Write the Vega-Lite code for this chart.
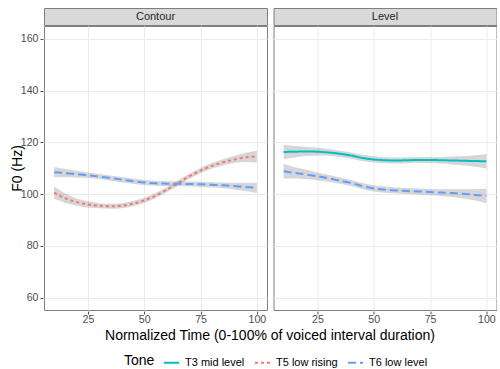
{
  "$schema": "https://vega.github.io/schema/vega-lite/v6.json",
  "padding": {"left": 10, "top": 7, "right": 0, "bottom": 0},
  "background": "white",
  "spacing": -1,
  "config": {
    "font": "Liberation Sans",
    "view": {"stroke": "#7f7f7f", "strokeWidth": 1},
    "axis": {"gridColor": "#EBEBEB", "gridWidth": 1, "domain": false, "tickColor": "#4D4D4D", "tickSize": 3, "labelColor": "#4D4D4D", "labelFontSize": 10.6, "labelPadding": 2, "titleFontWeight": "normal", "titleFontSize": 14, "titleColor": "black"},
    "legend": {"orient": "none", "legendX": 80, "legendY": 346, "direction": "horizontal", "titleOrient": "left", "titleFontSize": 14, "titleFontWeight": "normal", "titleColor": "black", "titlePadding": 8, "labelFontSize": 11, "labelColor": "black", "labelOffset": 5, "symbolType": "stroke", "symbolStrokeWidth": 2, "symbolSize": 225, "columnPadding": 6},
    "facet": {"spacing": 4.5}
  },
  "vconcat": [
    {
      "data": {"values": [{"panel": "Contour"}, {"panel": "Level"}]},
      "facet": {"column": {"field": "panel", "type": "nominal", "header": null}},
      "spec": {
        "width": 223, "height": 17,
        "view": {"fill": "#D9D9D9", "stroke": "#7f7f7f"},
        "mark": {"type": "text", "fontSize": 11, "color": "#262626", "fontWeight": "normal"},
        "encoding": {"text": {"field": "panel", "type": "nominal"}}
      }
    },
    {
      "data": {"values": [
        {"p":"Contour","tone":"T5 low rising","t":10,"y":100.6,"lo":98.3,"hi":102.9},
        {"p":"Contour","tone":"T5 low rising","t":15,"y":98.4,"lo":96.6,"hi":100.2},
        {"p":"Contour","tone":"T5 low rising","t":20,"y":96.9,"lo":95.5,"hi":98.3},
        {"p":"Contour","tone":"T5 low rising","t":25,"y":96.0,"lo":94.8,"hi":97.2},
        {"p":"Contour","tone":"T5 low rising","t":30,"y":95.5,"lo":94.5,"hi":96.5},
        {"p":"Contour","tone":"T5 low rising","t":35,"y":95.3,"lo":94.3,"hi":96.3},
        {"p":"Contour","tone":"T5 low rising","t":40,"y":95.5,"lo":94.5,"hi":96.5},
        {"p":"Contour","tone":"T5 low rising","t":45,"y":96.3,"lo":95.3,"hi":97.3},
        {"p":"Contour","tone":"T5 low rising","t":50,"y":97.6,"lo":96.6,"hi":98.6},
        {"p":"Contour","tone":"T5 low rising","t":55,"y":99.4,"lo":98.4,"hi":100.4},
        {"p":"Contour","tone":"T5 low rising","t":60,"y":101.7,"lo":100.7,"hi":102.7},
        {"p":"Contour","tone":"T5 low rising","t":65,"y":104.3,"lo":103.3,"hi":105.3},
        {"p":"Contour","tone":"T5 low rising","t":70,"y":106.9,"lo":105.9,"hi":107.9},
        {"p":"Contour","tone":"T5 low rising","t":75,"y":109.1,"lo":108.1,"hi":110.1},
        {"p":"Contour","tone":"T5 low rising","t":80,"y":110.9,"lo":109.8,"hi":112.0},
        {"p":"Contour","tone":"T5 low rising","t":85,"y":112.3,"lo":111.1,"hi":113.5},
        {"p":"Contour","tone":"T5 low rising","t":90,"y":113.4,"lo":112.0,"hi":114.8},
        {"p":"Contour","tone":"T5 low rising","t":95,"y":114.2,"lo":112.4,"hi":116.0},
        {"p":"Contour","tone":"T5 low rising","t":100,"y":114.5,"lo":112.2,"hi":116.8},
        {"p":"Contour","tone":"T6 low level","t":10,"y":108.5,"lo":106.5,"hi":110.5},
        {"p":"Contour","tone":"T6 low level","t":15,"y":108.1,"lo":106.5,"hi":109.7},
        {"p":"Contour","tone":"T6 low level","t":20,"y":107.7,"lo":106.4,"hi":109.0},
        {"p":"Contour","tone":"T6 low level","t":25,"y":107.3,"lo":106.2,"hi":108.4},
        {"p":"Contour","tone":"T6 low level","t":30,"y":106.8,"lo":105.8,"hi":107.8},
        {"p":"Contour","tone":"T6 low level","t":35,"y":106.2,"lo":105.2,"hi":107.2},
        {"p":"Contour","tone":"T6 low level","t":40,"y":105.6,"lo":104.6,"hi":106.6},
        {"p":"Contour","tone":"T6 low level","t":45,"y":105.0,"lo":104.0,"hi":106.0},
        {"p":"Contour","tone":"T6 low level","t":50,"y":104.5,"lo":103.5,"hi":105.5},
        {"p":"Contour","tone":"T6 low level","t":55,"y":104.2,"lo":103.2,"hi":105.2},
        {"p":"Contour","tone":"T6 low level","t":60,"y":104.0,"lo":103.0,"hi":105.0},
        {"p":"Contour","tone":"T6 low level","t":65,"y":104.0,"lo":103.0,"hi":105.0},
        {"p":"Contour","tone":"T6 low level","t":70,"y":103.9,"lo":102.9,"hi":104.9},
        {"p":"Contour","tone":"T6 low level","t":75,"y":103.8,"lo":102.8,"hi":104.8},
        {"p":"Contour","tone":"T6 low level","t":80,"y":103.6,"lo":102.6,"hi":104.6},
        {"p":"Contour","tone":"T6 low level","t":85,"y":103.4,"lo":102.3,"hi":104.5},
        {"p":"Contour","tone":"T6 low level","t":90,"y":103.1,"lo":101.8,"hi":104.4},
        {"p":"Contour","tone":"T6 low level","t":95,"y":102.8,"lo":101.2,"hi":104.4},
        {"p":"Contour","tone":"T6 low level","t":100,"y":102.4,"lo":100.4,"hi":104.4},
        {"p":"Level","tone":"T3 mid level","t":10,"y":116.3,"lo":113.5,"hi":119.1},
        {"p":"Level","tone":"T3 mid level","t":15,"y":116.4,"lo":114.2,"hi":118.6},
        {"p":"Level","tone":"T3 mid level","t":20,"y":116.5,"lo":114.7,"hi":118.3},
        {"p":"Level","tone":"T3 mid level","t":25,"y":116.4,"lo":114.9,"hi":117.9},
        {"p":"Level","tone":"T3 mid level","t":30,"y":116.1,"lo":114.8,"hi":117.4},
        {"p":"Level","tone":"T3 mid level","t":35,"y":115.6,"lo":114.4,"hi":116.8},
        {"p":"Level","tone":"T3 mid level","t":40,"y":114.9,"lo":113.7,"hi":116.1},
        {"p":"Level","tone":"T3 mid level","t":45,"y":114.0,"lo":112.8,"hi":115.2},
        {"p":"Level","tone":"T3 mid level","t":50,"y":113.4,"lo":112.2,"hi":114.6},
        {"p":"Level","tone":"T3 mid level","t":55,"y":113.1,"lo":111.9,"hi":114.3},
        {"p":"Level","tone":"T3 mid level","t":60,"y":113.0,"lo":111.8,"hi":114.2},
        {"p":"Level","tone":"T3 mid level","t":65,"y":113.1,"lo":111.9,"hi":114.3},
        {"p":"Level","tone":"T3 mid level","t":70,"y":113.2,"lo":112.0,"hi":114.4},
        {"p":"Level","tone":"T3 mid level","t":75,"y":113.2,"lo":112.0,"hi":114.4},
        {"p":"Level","tone":"T3 mid level","t":80,"y":113.1,"lo":111.8,"hi":114.4},
        {"p":"Level","tone":"T3 mid level","t":85,"y":113.0,"lo":111.5,"hi":114.5},
        {"p":"Level","tone":"T3 mid level","t":90,"y":112.9,"lo":111.1,"hi":114.7},
        {"p":"Level","tone":"T3 mid level","t":95,"y":112.8,"lo":110.6,"hi":115.0},
        {"p":"Level","tone":"T3 mid level","t":100,"y":112.7,"lo":109.9,"hi":115.5},
        {"p":"Level","tone":"T6 low level","t":10,"y":108.8,"lo":106.0,"hi":111.6},
        {"p":"Level","tone":"T6 low level","t":15,"y":108.2,"lo":106.0,"hi":110.4},
        {"p":"Level","tone":"T6 low level","t":20,"y":107.6,"lo":105.8,"hi":109.4},
        {"p":"Level","tone":"T6 low level","t":25,"y":106.9,"lo":105.4,"hi":108.4},
        {"p":"Level","tone":"T6 low level","t":30,"y":106.1,"lo":104.8,"hi":107.4},
        {"p":"Level","tone":"T6 low level","t":35,"y":105.2,"lo":104.0,"hi":106.4},
        {"p":"Level","tone":"T6 low level","t":40,"y":104.3,"lo":103.1,"hi":105.5},
        {"p":"Level","tone":"T6 low level","t":45,"y":103.1,"lo":101.9,"hi":104.3},
        {"p":"Level","tone":"T6 low level","t":50,"y":102.2,"lo":101.0,"hi":103.4},
        {"p":"Level","tone":"T6 low level","t":55,"y":101.7,"lo":100.5,"hi":102.9},
        {"p":"Level","tone":"T6 low level","t":60,"y":101.4,"lo":100.2,"hi":102.6},
        {"p":"Level","tone":"T6 low level","t":65,"y":101.2,"lo":100.0,"hi":102.4},
        {"p":"Level","tone":"T6 low level","t":70,"y":101.0,"lo":99.8,"hi":102.2},
        {"p":"Level","tone":"T6 low level","t":75,"y":100.8,"lo":99.6,"hi":102.0},
        {"p":"Level","tone":"T6 low level","t":80,"y":100.6,"lo":99.3,"hi":101.9},
        {"p":"Level","tone":"T6 low level","t":85,"y":100.4,"lo":98.9,"hi":101.9},
        {"p":"Level","tone":"T6 low level","t":90,"y":100.1,"lo":98.3,"hi":101.9},
        {"p":"Level","tone":"T6 low level","t":95,"y":99.7,"lo":97.5,"hi":101.9},
        {"p":"Level","tone":"T6 low level","t":100,"y":99.3,"lo":96.5,"hi":102.1}
      ]},
      "facet": {"column": {"field": "p", "type": "nominal", "header": {"labels": false, "title": "Normalized Time (0-100% of voiced interval duration)", "titleOrient": "bottom", "titleFontSize": 14, "titleFontWeight": "normal", "titleColor": "black", "titlePadding": -6}}},
      "spec": {
        "width": 223, "height": 284,
        "layer": [
          {
            "mark": {"type": "area", "color": "#999999", "opacity": 0.4, "interpolate": "monotone"},
            "encoding": {
              "x": {"field": "t", "type": "quantitative", "scale": {"domain": [5.5, 104.5], "nice": false}, "axis": {"values": [25, 50, 75, 100], "title": null, "labelPadding": 0}},
              "y": {"field": "lo", "type": "quantitative", "scale": {"domain": [55.2, 165], "nice": false, "zero": false}, "axis": {"values": [60, 80, 100, 120, 140, 160], "title": "F0 (Hz)", "titlePadding": -4}},
              "y2": {"field": "hi"},
              "detail": {"field": "tone", "type": "nominal"}
            }
          },
          {
            "mark": {"type": "line", "strokeWidth": 2, "interpolate": "monotone"},
            "encoding": {
              "x": {"field": "t", "type": "quantitative"},
              "y": {"field": "y", "type": "quantitative"},
              "color": {"field": "tone", "type": "nominal", "title": "Tone", "scale": {"domain": ["T3 mid level", "T5 low rising", "T6 low level"], "range": ["#00BFC4", "#F8766D", "#619CFF"]}},
              "strokeDash": {"field": "tone", "type": "nominal", "title": "Tone", "scale": {"domain": ["T3 mid level", "T5 low rising", "T6 low level"], "range": [[1, 0], [3, 3], [8, 4]]}}
            }
          }
        ]
      }
    }
  ]
}
